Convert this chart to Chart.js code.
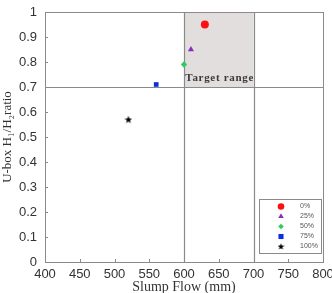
<!DOCTYPE html>
<html><head><meta charset="utf-8">
<script src="https://cdn.jsdelivr.net/npm/chart.js@4.4.1/dist/chart.umd.min.js"></script>
<style>html,body{margin:0;padding:0;background:#fff}#wrap{width:332px;height:293px}</style>
</head><body><div id="wrap"><canvas id="c" width="332" height="293"></canvas></div>
<script>
const seriesLabels = ['0%', '25%', '50%', '75%', '100%'];
const slumpFlow = [630, 610, 600, 560, 520];
const uboxRatio = [0.95, 0.85, 0.79, 0.71, 0.57];
const xTicks = [400, 450, 500, 550, 600, 650, 700, 750, 800];
const yTicks = [0, 0.1, 0.2, 0.3, 0.4, 0.5, 0.6, 0.7, 0.8, 0.9, 1];
const targetX = [600, 700];
const targetY = [0.7, 1];

function makeStar(size) {
  const c = document.createElement('canvas');
  c.width = size; c.height = size;
  const g = c.getContext('2d'); g.fillStyle = '#000'; g.beginPath();
  const R = size / 2, r = R * 0.42;
  for (let i = 0; i < 10; i++) { const rr = i % 2 ? r : R; const a = -Math.PI / 2 + i * Math.PI / 5; g.lineTo(R + rr * Math.cos(a), R * 1.08 + rr * Math.sin(a)); }
  g.closePath(); g.fill();
  return c;
}
const starPlot = makeStar(8);
const starLegend = makeStar(7);

const colors = ['#ff1010', '#8a2bc0', '#2ecc60', '#0a2ee0', '#000000'];
const styles = ['circle', 'triangle', 'rectRot', 'rect', starPlot];
const legendStyles = ['circle', 'triangle', 'rectRot', 'rect', starLegend];
const radii = [4, 3.5, 3.2, 3.3, 5];
const legendRadii = [3.3, 3.2, 2.8, 3.6, 4];

const datasets = seriesLabels.map((l, i) => ({
  label: l,
  data: [{x: slumpFlow[i], y: uboxRatio[i]}],
  backgroundColor: colors[i], borderColor: colors[i], borderWidth: 0,
  pointStyle: styles[i], pointRadius: radii[i]
}));

const decor = {
  id: 'decor',
  beforeDatasetsDraw(chart) {
    const {ctx, chartArea: a, scales: {x, y}} = chart;
    ctx.save();
    ctx.fillStyle = '#e2dede';
    const x0 = x.getPixelForValue(targetX[0]), x1 = x.getPixelForValue(targetX[1]);
    const y0 = y.getPixelForValue(targetY[1]), y1 = y.getPixelForValue(targetY[0]);
    ctx.fillRect(x0, y0, x1 - x0, y1 - y0);
    ctx.strokeStyle = '#8a8a8a'; ctx.lineWidth = 1.2;
    ctx.beginPath();
    targetX.forEach(v => { const p = Math.round(x.getPixelForValue(v)) + 0.5; ctx.moveTo(p, a.top); ctx.lineTo(p, a.bottom); });
    const py = Math.round(y.getPixelForValue(targetY[0])) + 0.5; ctx.moveTo(a.left, py); ctx.lineTo(a.right, py);
    ctx.stroke();
    ctx.strokeStyle = '#8a8a8a'; ctx.lineWidth = 1;
    ctx.strokeRect(Math.round(a.left) + 0.5, Math.round(a.top) + 0.5, Math.round(a.right - a.left), Math.round(a.bottom - a.top));
    ctx.beginPath();
    xTicks.forEach(v => { const p = Math.round(x.getPixelForValue(v)) + 0.5; ctx.moveTo(p, a.bottom); ctx.lineTo(p, a.bottom - 3); });
    yTicks.forEach(v => { const p = Math.round(y.getPixelForValue(v)) + 0.5; ctx.moveTo(a.left, p); ctx.lineTo(a.left + 3, p); });
    ctx.stroke();
    ctx.fillStyle = '#3a3a3a';
    ctx.font = 'bold 11px "Liberation Serif", serif';
    ctx.textAlign = 'center'; ctx.textBaseline = 'middle';
    if ('letterSpacing' in ctx) ctx.letterSpacing = '0.7px';
    ctx.fillText('Target range', x.getPixelForValue(650) + 1, y.getPixelForValue(0.737));
    ctx.restore();
  },
  afterDatasetsDraw(chart) {
    const {ctx, chartArea: a} = chart;
    ctx.save();
    const bw = 62, bh = 54;
    const bx = Math.round(a.right) - 64, by = Math.round(a.bottom) - 63;
    ctx.fillStyle = '#fff'; ctx.fillRect(bx, by, bw, bh);
    ctx.strokeStyle = '#8a8a8a'; ctx.lineWidth = 1;
    ctx.strokeRect(bx + 0.5, by + 0.5, bw, bh);
    ctx.font = '7px "Liberation Sans", Arial, sans-serif';
    ctx.textBaseline = 'middle'; ctx.textAlign = 'left';
    chart.data.datasets.forEach((d, i) => {
      const cy = by + 7.5 + i * 10;
      ctx.fillStyle = d.backgroundColor;
      ctx.strokeStyle = d.backgroundColor;
      Chart.helpers.drawPoint(ctx, {pointStyle: legendStyles[i], radius: legendRadii[i], rotation: 0, borderWidth: 0}, bx + 22, cy);
      ctx.fillStyle = '#555';
      ctx.fillText(d.label, bx + 41, cy);
    });
    ctx.restore();
  }
};

new Chart(document.getElementById('c'), {
  type: 'scatter',
  data: {datasets},
  options: {
    responsive: false, animation: false,
    layout: {padding: {top: 12, right: 9, left: 0, bottom: 0}},
    plugins: {legend: {display: false}, tooltip: {enabled: false}},
    scales: {
      x: {
        type: 'linear', min: 400, max: 800,
        afterBuildTicks: s => { s.ticks = xTicks.map(v => ({value: v})); },
        grid: {display: false, drawTicks: false}, border: {display: false},
        ticks: {color: '#333', font: {family: '"Liberation Sans", Arial, sans-serif', size: 13}, padding: 5, maxRotation: 0, autoSkip: false},
        title: {display: true, text: 'Slump Flow (mm)', color: '#333', font: {family: '"Liberation Serif", serif', size: 14}, padding: {top: 0, bottom: -3}},
        afterFit: s => { s.height = 31; s.paddingRight = 0; s.paddingLeft = 0; }
      },
      y: {
        type: 'linear', min: 0, max: 1,
        afterBuildTicks: s => { s.ticks = yTicks.map(v => ({value: v})); },
        grid: {display: false, drawTicks: false}, border: {display: false},
        ticks: {color: '#333', font: {family: '"Liberation Sans", Arial, sans-serif', size: 13}, padding: 8, autoSkip: false,
          callback: v => String(Math.round(v * 10) / 10)},
        title: {display: true, text: 'U-box H\u2081/H\u2082ratio', color: '#333', font: {family: '"Liberation Serif", serif', size: 13}, padding: {top: 0, bottom: 0}},
        afterFit: s => { s.width = 45; s.paddingTop = 0; s.paddingBottom = 0; }
      }
    }
  },
  plugins: [decor]
});
</script></body></html>
